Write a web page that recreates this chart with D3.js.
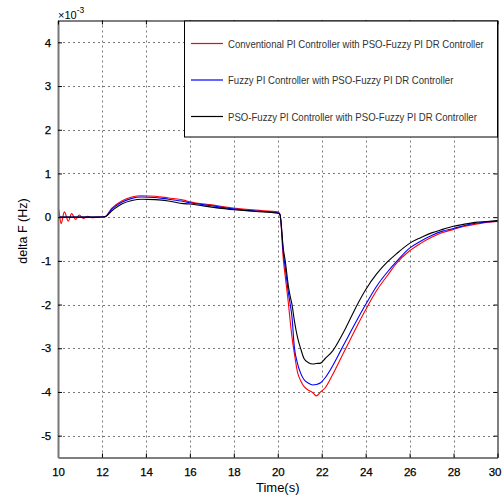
<!DOCTYPE html>
<html>
<head>
<meta charset="utf-8">
<script src="https://cdn.jsdelivr.net/npm/d3@7"></script>
<style>
  html, body { margin: 0; padding: 0; background: #fff; }
  svg { display: block; }
</style>
</head>
<body>
<svg id="chart" width="502" height="498"></svg>
<script>
// Time base shared by all three responses (s)
const time = [10, 10.03, 10.14, 10.29, 10.47, 10.62, 10.8, 10.97, 11.15, 11.35, 11.53, 11.8,
  12.14, 12.44, 12.9, 13.36, 13.81, 14.42, 15.03, 15.71, 16, 17, 18, 19, 20, 20.1,
  20.26, 20.34, 20.49, 20.57, 20.65, 20.75, 20.9, 21.05, 21.2, 21.4, 21.6, 21.75, 21.95,
  22.15, 22.5, 22.9, 23.1, 23.6, 24, 24.5, 25, 25.4, 26, 26.5, 27, 27.5, 28, 28.5, 29, 29.5, 30];

// Frequency deviation, in units of 1e-3 Hz
const conventionalPI = [0.2, 0.17, -0.15, 0.12, -0.09, 0.08, -0.05, 0.05, -0.03, 0.02, -0.01, 0,
  0.01, 0.2, 0.37, 0.46, 0.49, 0.48, 0.44, 0.39, 0.35, 0.28, 0.21, 0.16, 0.12, 0.07,
  -1.0, -1.35, -2.0, -2.4, -2.75, -3.1, -3.55, -3.75, -3.88, -3.96, -4.02, -4.09, -4.0,
  -3.91, -3.6, -3.2, -3.0, -2.5, -2.12, -1.68, -1.33, -1.06, -0.77, -0.6, -0.46, -0.35, -0.28, -0.21, -0.16, -0.12, -0.1];

const fuzzyPI = [0, 0, 0, 0, 0, 0, 0, 0, 0, 0, 0, 0,
  0.01, 0.18, 0.34, 0.43, 0.46, 0.45, 0.41, 0.36, 0.33, 0.26, 0.19, 0.14, 0.1, 0.06,
  -0.85, -1.15, -1.75, -2.0, -2.3, -2.95, -3.35, -3.58, -3.72, -3.8, -3.84, -3.83, -3.79,
  -3.68, -3.4, -3.02, -2.83, -2.36, -2.0, -1.58, -1.25, -1.02, -0.71, -0.55, -0.42, -0.32, -0.26, -0.19, -0.14, -0.11, -0.09];

const psoFuzzyPI = [0, 0, 0, 0, 0, 0, 0, 0, 0, 0, 0, 0,
  0.01, 0.14, 0.3, 0.38, 0.41, 0.4, 0.37, 0.31, 0.3, 0.23, 0.17, 0.13, 0.09, 0.06,
  -0.75, -1.0, -1.6, -1.82, -2.0, -2.35, -2.75, -3.02, -3.24, -3.33, -3.36, -3.35, -3.34,
  -3.24, -3.06, -2.72, -2.53, -2.02, -1.66, -1.3, -1.02, -0.84, -0.6, -0.47, -0.36, -0.28, -0.21, -0.16, -0.12, -0.1, -0.08];

const seriesNames = [
  "Conventional PI Controller with PSO-Fuzzy PI DR Controller",
  "Fuzzy PI Controller with PSO-Fuzzy PI DR Controller",
  "PSO-Fuzzy PI Controller with PSO-Fuzzy PI DR Controller"
];
const seriesColors = ["#ff0000", "#0000ff", "#000000"];
const seriesValues = [conventionalPI, fuzzyPI, psoFuzzyPI];

const xTicks = [10, 12, 14, 16, 18, 20, 22, 24, 26, 28, 30];
const yTicks = [-5, -4, -3, -2, -1, 0, 1, 2, 3, 4];

const svg = d3.select("#chart");
const plotLeft = 58, plotRight = 497.5, plotTop = 20.5, plotBottom = 457.5;

const x = d3.scaleLinear().domain([10, 30]).range([plotLeft, plotRight]);
const y = d3.scaleLinear().domain([-5.5, 4.5]).range([plotBottom, plotTop]);

svg.append("rect").attr("width", 502).attr("height", 498).attr("fill", "#fff");

// Dotted grid
const grid = svg.append("g").attr("stroke", "#555").attr("stroke-width", 0.8)
  .attr("stroke-dasharray", "2,3");
grid.selectAll("line.v").data(xTicks.slice(1, -1)).join("line").attr("class", "v")
  .attr("x1", d => Math.round(x(d)) + 0.5).attr("x2", d => Math.round(x(d)) + 0.5)
  .attr("y1", plotTop).attr("y2", plotBottom);
grid.selectAll("line.h").data(yTicks).join("line").attr("class", "h")
  .attr("y1", d => Math.round(y(d)) + 0.5).attr("y2", d => Math.round(y(d)) + 0.5)
  .attr("x1", plotLeft).attr("x2", plotRight);

// Curves
const line = d3.line().x((d, i) => x(time[i])).y(d => y(d)).curve(d3.curveMonotoneX);
svg.append("g").selectAll("path").data(seriesValues).join("path")
  .attr("d", d => line(d))
  .attr("fill", "none")
  .attr("stroke", (d, i) => seriesColors[i])
  .attr("stroke-width", 1.1);

// Axes with inward ticks on all four sides
const font = "'Liberation Sans', Arial, sans-serif";
const xAxis = svg.append("g").attr("transform", `translate(0,${plotBottom})`)
  .call(d3.axisBottom(x).tickValues(xTicks).tickSizeInner(-4).tickSizeOuter(0).tickPadding(10));
const yAxis = svg.append("g").attr("transform", `translate(${plotLeft},0)`)
  .call(d3.axisLeft(y).tickValues(yTicks).tickSizeInner(-4).tickSizeOuter(0).tickPadding(7));
svg.append("g").attr("transform", `translate(0,${plotTop})`)
  .call(d3.axisTop(x).tickValues(xTicks).tickSizeInner(-4).tickSizeOuter(0).tickFormat(""));
svg.append("g").attr("transform", `translate(${plotRight},0)`)
  .call(d3.axisRight(y).tickValues(yTicks).tickSizeInner(-4).tickSizeOuter(0).tickFormat(""));

svg.selectAll(".domain").attr("stroke", "#000").attr("stroke-width", 1);
svg.selectAll(".tick line").attr("stroke", "#000");
const tickTextStyle = sel => sel.attr("font-family", font).attr("font-size", 11.5)
  .attr("fill", "#000").attr("stroke", "#000").attr("stroke-width", 0.25)
  .attr("letter-spacing", -0.2);
xAxis.selectAll("text").call(tickTextStyle)
  .attr("dx", d => d === 30 ? -3 : 0);
yAxis.selectAll("text").call(tickTextStyle)
  .text(d => d < 0 ? "-" + Math.abs(d) : d);
yAxis.select(".domain").attr("stroke", "#777").attr("stroke-width", 2);

// Axis labels
svg.append("text").attr("x", (plotLeft + plotRight) / 2).attr("y", 492)
  .attr("text-anchor", "middle").attr("font-family", font).attr("font-size", 13)
  .text("Time(s)");
svg.append("text").attr("transform", "translate(27,231) rotate(-90)")
  .attr("text-anchor", "middle").attr("font-family", font).attr("font-size", 12.5)
  .text("delta F (Hz)");

// Exponent marker
const expo = svg.append("text").attr("x", plotLeft).attr("y", 19)
  .attr("font-family", font).attr("font-size", 11);
expo.append("tspan").text("×10");
expo.append("tspan").attr("dy", -6).attr("font-size", 8.5).text("-3");

// Legend (condensed text: horizontal squeeze of the regular face)
const squeeze = 0.835;
const legend = svg.append("g").attr("transform", "translate(184,21)");
legend.append("rect").attr("x", 0.5).attr("y", 0).attr("width", 313).attr("height", 116)
  .attr("fill", "#fff").attr("stroke", "#000").attr("stroke-width", 1);
const entry = legend.selectAll("g.entry").data(seriesNames).join("g")
  .attr("transform", (d, i) => `translate(0,${22.5 + i * 36.5})`);
entry.append("line").attr("x1", 7).attr("x2", 39).attr("y1", 0).attr("y2", 0)
  .attr("stroke", (d, i) => seriesColors[i]).attr("stroke-width", 1.2);
entry.append("g").attr("transform", `translate(44,4) scale(${squeeze},1)`)
  .append("text")
  .attr("font-family", font).attr("font-size", 11.5).attr("fill", "#333")
  .text(d => d);
</script>
</body>
</html>
